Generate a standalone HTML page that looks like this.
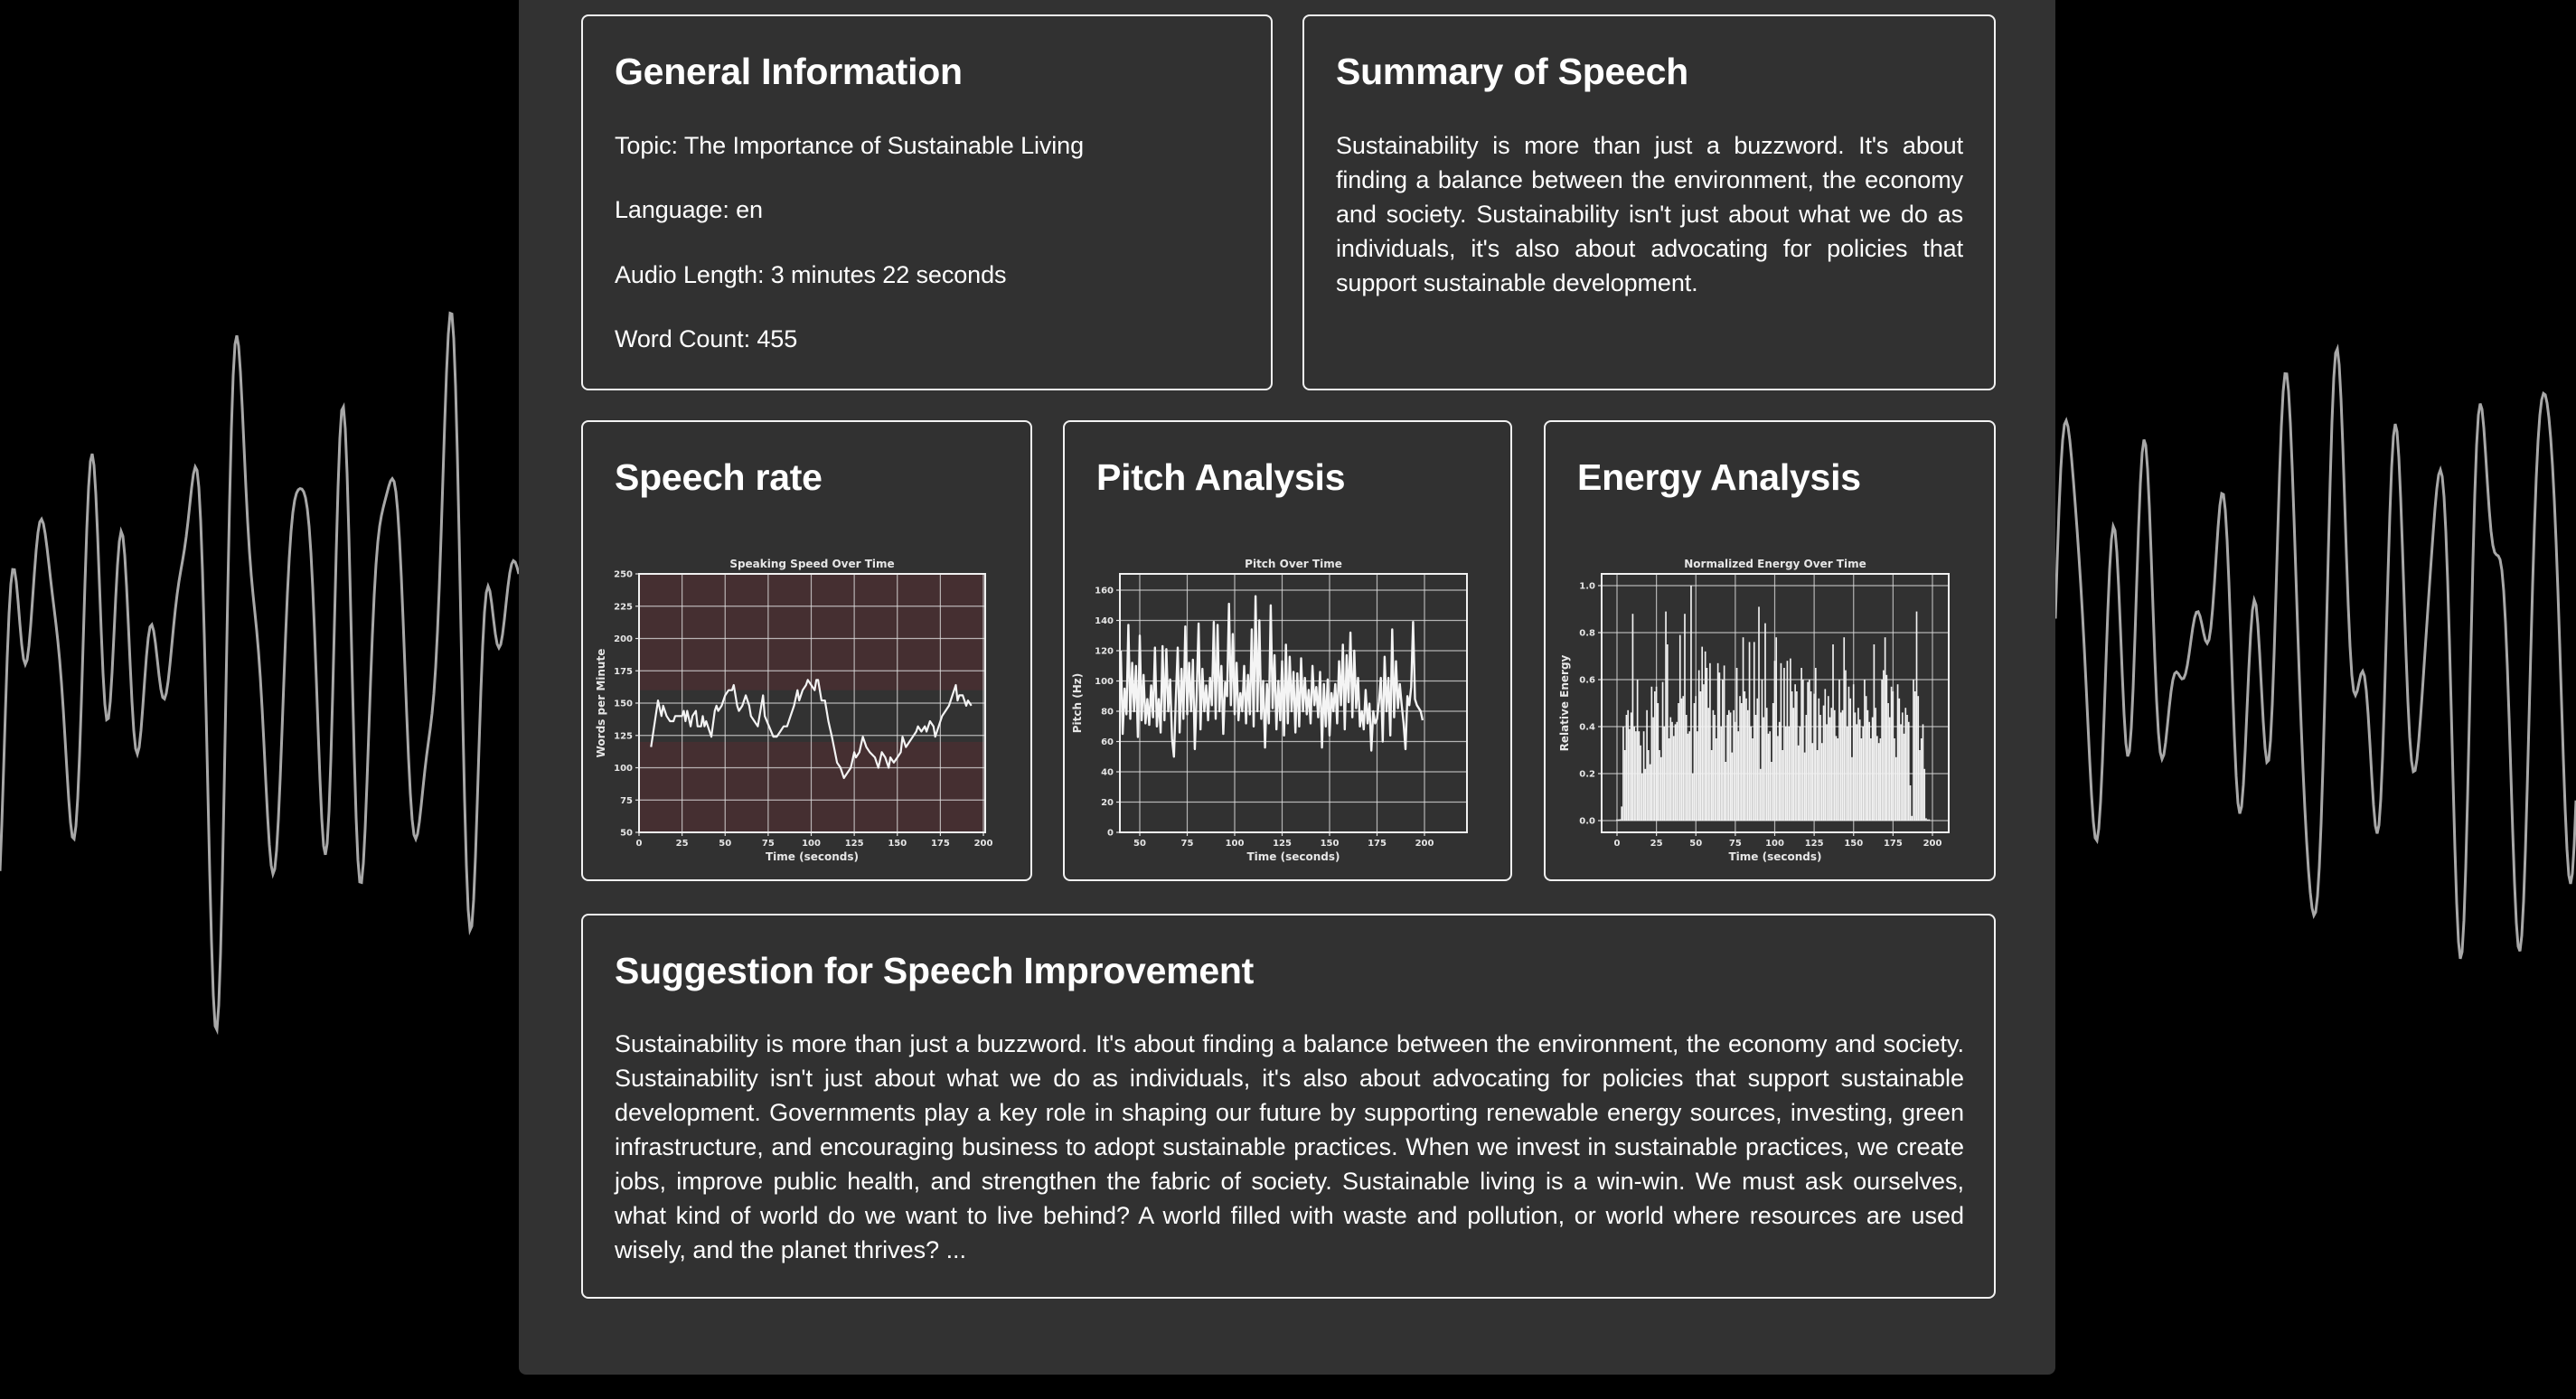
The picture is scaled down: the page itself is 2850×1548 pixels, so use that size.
<!DOCTYPE html>
<html><head><meta charset="utf-8"><title>Speech Analysis</title>
<style>
html,body{margin:0;padding:0;background:#000;width:2850px;height:1548px;overflow:hidden;font-family:"Liberation Sans",Arial,sans-serif;color:#fff}
#bgwave{position:absolute;left:0;top:0}
#container{position:absolute;left:574px;top:-10px;width:1700px;height:1531px;background:#323232;border-radius:8px}
.card{position:absolute;border:2px solid #f2f2f2;border-radius:8px;box-sizing:border-box;background:rgba(48,48,48,0.6)}
.card h2{position:absolute;left:35px;top:37px;margin:0;font-size:41px;line-height:48px;font-weight:bold;white-space:nowrap;letter-spacing:-0.25px}
.card p{position:absolute;left:35px;margin:0;font-size:27px;line-height:38px;white-space:nowrap;letter-spacing:-0.1px}
.just{white-space:normal!important;text-align:justify}
#charts{position:absolute;left:0;top:0;pointer-events:none}
</style></head>
<body>
<svg id="bgwave" width="2850" height="1548"></svg>
<div id="container"></div>

<div class="card" style="left:643px;top:16px;width:765px;height:416px">
 <h2>General Information</h2>
 <p style="top:124px">Topic: The Importance of Sustainable Living</p>
 <p style="top:195px">Language: en</p>
 <p style="top:267px">Audio Length: 3 minutes 22 seconds</p>
 <p style="top:338px">Word Count: 455</p>
</div>

<div class="card" style="left:1441px;top:16px;width:767px;height:416px">
 <h2>Summary of Speech</h2>
 <p class="just" style="top:124px;width:694px">Sustainability is more than just a buzzword. It's about finding a balance between the environment, the economy and society. Sustainability isn't just about what we do as individuals, it's also about advocating for policies that support sustainable development.</p>
</div>

<div class="card" style="left:643px;top:465px;width:499px;height:510px">
 <h2>Speech rate</h2>
</div>
<div class="card" style="left:1176px;top:465px;width:497px;height:510px">
 <h2>Pitch Analysis</h2>
</div>
<div class="card" style="left:1708px;top:465px;width:500px;height:510px">
 <h2>Energy Analysis</h2>
</div>

<div class="card" style="left:643px;top:1011px;width:1565px;height:426px">
 <h2>Suggestion for Speech Improvement</h2>
 <p class="just" style="top:123px;width:1493px;letter-spacing:-0.02px">Sustainability is more than just a buzzword. It's about finding a balance between the environment, the economy and society. Sustainability isn't just about what we do as individuals, it's also about advocating for policies that support sustainable development. Governments play a key role in shaping our future by supporting renewable energy sources, investing, green infrastructure, and encouraging business to adopt sustainable practices. When we invest in sustainable practices, we create jobs, improve public health, and strengthen the fabric of society. Sustainable living is a win-win. We must ask ourselves, what&nbsp;kind of world do we want to live behind? A world filled with waste and pollution, or world where resources are used wisely, and the planet thrives? ...</p>
</div>

<svg id="charts" width="2850" height="1548"></svg>

<script>
// ---------- Speech rate data ----------
const rateTimes = [7,11,13,14,16,18,20,21,25,26,27,28,30,31,33,34,36,37,38,39,42,44,45,46,48,50,52,54,55,57,58,60,62,64,65,67,69,72,73,78,80,82,84,86,88,90,92,93,95,97,98,100,102,103,104,106,108,110,112,115,117,119,121,123,125,126,128,130,132,134,137,139,141,143,145,146,148,150,152,153,155,157,159,161,162,164,166,167,169,171,172,174,176,178,180,182,184,185,186,188,190,191,193];
const rateValues = [116,152,140,148,140,136,136,140,140,144,136,144,132,140,144,132,132,140,132,136,124,144,148,144,148,156,160,160,164,148,144,148,156,148,140,136,132,156,140,124,124,128,132,132,140,148,160,152,160,164,168,164,160,168,168,152,152,136,124,104,100,92,96,100,112,108,112,124,116,112,108,100,112,108,100,108,104,108,112,124,116,120,124,128,132,128,132,128,136,132,124,132,140,144,148,156,164,152,156,156,148,152,148];
const rateYTicks = [50,75,100,125,150,175,200,225,250];
const rateXTicks = [0,25,50,75,100,125,150,175,200];
const rateBandLow = 120, rateBandHigh = 160;

// ---------- Pitch data (t = 40..199) ----------
const pitchStart = 40;
const pitchValues = [120,65,95,78,137,75,112,80,110,63,130,74,104,72,88,71,97,76,122,70,88,66,123,74,121,80,101,62,50,88,122,66,108,75,136,78,112,80,114,55,92,138,68,108,80,97,74,102,84,139,75,137,80,110,65,99,90,151,84,131,78,112,74,92,80,110,72,104,78,134,70,156,80,140,75,100,56,98,72,150,82,117,68,100,74,113,64,124,72,116,80,106,66,105,70,115,80,102,78,94,72,110,84,96,76,106,56,98,70,101,64,92,80,98,72,113,84,124,68,117,86,132,76,120,82,102,70,80,68,94,72,85,54,80,72,75,86,102,60,116,80,102,64,134,76,113,82,98,84,72,55,90,84,96,139,88,84,82,80,74];
const pitchYTicks = [0,20,40,60,80,100,120,140,160];
const pitchXTicks = [50,75,100,125,150,175,200];

// ---------- Energy data (t = 0..~200, 1 s step) ----------
const energyValues = [0.005,0.005,0.006,0.06,0.40,0.30,0.45,0.47,0.39,0.46,0.88,0.40,0.38,0.60,0.38,0.32,0.20,0.38,0.22,0.47,0.30,0.24,0.57,0.44,0.55,0.57,0.50,0.30,0.27,0.59,0.40,0.89,0.75,0.35,0.44,0.42,0.36,0.41,0.42,0.50,0.79,0.52,0.53,0.88,0.45,0.37,0.38,1.00,0.20,0.50,0.53,0.38,0.64,0.55,0.74,0.58,0.72,0.65,0.48,0.67,0.30,0.47,0.45,0.35,0.67,0.63,0.40,0.60,0.66,0.25,0.45,0.47,0.46,0.29,0.47,0.42,0.65,0.38,0.53,0.50,0.78,0.55,0.52,0.47,0.76,0.40,0.35,0.76,0.45,0.52,0.91,0.22,0.60,0.44,0.84,0.48,0.37,0.38,0.25,0.50,0.68,0.78,0.36,0.42,0.67,0.30,0.65,0.40,0.68,0.40,0.69,0.55,0.48,0.58,0.55,0.32,0.40,0.65,0.60,0.29,0.45,0.59,0.60,0.55,0.33,0.54,0.65,0.30,0.52,0.45,0.33,0.49,0.56,0.41,0.53,0.44,0.48,0.75,0.47,0.36,0.35,0.60,0.46,0.47,0.78,0.64,0.40,0.57,0.52,0.27,0.58,0.46,0.41,0.48,0.43,0.35,0.40,0.60,0.53,0.47,0.42,0.35,0.44,0.75,0.48,0.36,0.33,0.35,0.60,0.64,0.78,0.62,0.50,0.44,0.57,0.55,0.35,0.27,0.58,0.52,0.41,0.46,0.37,0.48,0.45,0.42,0.15,0.02,0.60,0.55,0.89,0.53,0.30,0.35,0.41,0.22,0.01,0.005,0.005];
const energyYTicks = [0.0,0.2,0.4,0.6,0.8,1.0];
const energyXTicks = [0,25,50,75,100,125,150,175,200];

const NS = 'http://www.w3.org/2000/svg';
const svg = document.getElementById('charts');
function mk(tag, attrs, parent){const e=document.createElementNS(NS,tag);for(const k in attrs)e.setAttribute(k,attrs[k]);(parent||svg).appendChild(e);return e;}
function lin(d0,d1,r0,r1){return v=>r0+(v-d0)/(d1-d0)*(r1-r0);}
const tickFont = 'font-family:"DejaVu Sans",sans-serif;font-weight:bold;font-size:10px;fill:#e6e6e6';
const labFont = 'font-family:"DejaVu Sans",sans-serif;font-weight:bold;font-size:12px;fill:#e6e6e6';

function axesFrame(g, x0,x1,y0,y1, sx, sy, xt, yt, fmtY, title, xlabel, ylabel, ylabX){
  for(const t of xt){
    const l=mk('line',{x1:sx(t),x2:sx(t),y1:y0,y2:y1,stroke:'#e0e0e0','stroke-width':1.2,'stroke-opacity':0.75},g);
    
    
    const tx=mk('text',{x:sx(t),y:y1+15,'text-anchor':'middle',style:tickFont},g);
    tx.textContent=t;
    
    
    mk('line',{x1:sx(t),x2:sx(t),y1:y1,y2:y1+4,stroke:'#e0e0e0','stroke-width':1.2},g);
  }
  for(const t of yt){
    const l=mk('line',{x1:x0,x2:x1,y1:sy(t),y2:sy(t),stroke:'#e0e0e0','stroke-width':1.2,'stroke-opacity':0.75},g);
    
    
    const tx=mk('text',{x:x0-7,y:sy(t)+3.5,'text-anchor':'end',style:tickFont},g);
    tx.textContent=fmtY(t);
    
    
    mk('line',{x1:x0-4,x2:x0,y1:sy(t),y2:sy(t),stroke:'#e0e0e0','stroke-width':1.2},g);
  }
  const fr=mk('rect',{x:x0,y:y0,width:x1-x0,height:y1-y0,fill:'none',stroke:'#f0f0f0','stroke-width':2},g);
  
  
  const tt=mk('text',{x:(x0+x1)/2,y:y0-7,'text-anchor':'middle',style:labFont},g);
  tt.textContent=title;
  
  
  const xl=mk('text',{x:(x0+x1)/2,y:y1+31,'text-anchor':'middle',style:labFont},g);
  xl.textContent=xlabel;
  
  
  const yl=mk('text',{x:ylabX,y:(y0+y1)/2,'text-anchor':'middle',style:labFont,transform:`rotate(-90 ${ylabX} ${(y0+y1)/2})`},g);
  yl.textContent=ylabel;
  
  
}

// ---- Chart 1: speech rate ----
(function(){
  const x0=707,x1=1090,y0=635,y1=921;
  const sx=lin(0,200,707,1088), sy=lin(50,250,921,635);
  const g=mk('g',{});
  
  
  const bg=mk('rect',{x:x0,y:y0,width:x1-x0,height:y1-y0,fill:'#452f31'},g);
  
  
  const band=mk('rect',{x:x0,y:sy(rateBandHigh),width:x1-x0,height:sy(rateBandLow)-sy(rateBandHigh),fill:'#323232'},g);
  
  
  axesFrame(g,x0,x1,y0,y1,sx,sy,rateXTicks,rateYTicks,v=>v,'Speaking Speed Over Time','Time (seconds)','Words per Minute',669);
  const pts=rateTimes.map((t,i)=>sx(t).toFixed(1)+','+sy(rateValues[i]).toFixed(1)).join(' ');
  const pl=mk('polyline',{points:pts,fill:'none',stroke:'#f4f4f4','stroke-width':2.2,'stroke-linejoin':'round'},g);
  
  
})();

// ---- Chart 2: pitch ----
(function(){
  const x0=1239,x1=1623,y0=635,y1=921;
  const sx=lin(50,200,1261,1576), sy=lin(0,160,921,653);
  const g=mk('g',{});
  
  
  axesFrame(g,x0,x1,y0,y1,sx,sy,pitchXTicks,pitchYTicks,v=>v,'Pitch Over Time','Time (seconds)','Pitch (Hz)',1196);
  const pts=pitchValues.map((v,i)=>sx(pitchStart+i).toFixed(1)+','+sy(v).toFixed(1)).join(' ');
  const pl=mk('polyline',{points:pts,fill:'none',stroke:'#f4f4f4','stroke-width':2.4,'stroke-linejoin':'round'},g);
  
  
})();

// ---- Chart 3: energy ----
(function(){
  const x0=1772,x1=2156,y0=635,y1=921;
  const sx=lin(0,200,1789,2138), sy=lin(0,1,908,648);
  const g=mk('g',{});
  
  
  axesFrame(g,x0,x1,y0,y1,sx,sy,energyXTicks,energyYTicks,v=>v.toFixed(1),'Normalized Energy Over Time','Time (seconds)','Relative Energy',1735);
  energyValues.forEach((v,i)=>{
    const w=sx(1)-sx(0);
    const b=mk('rect',{x:(sx(i)-w*0.5).toFixed(2),y:sy(v).toFixed(2),width:(w*0.95).toFixed(2),height:(sy(0)-sy(v)).toFixed(2),fill:'#f2f2f2'},g);
    
    
  });
})();

// ---- decorative background waves ----
(function(){
  const bg=document.getElementById('bgwave');
  function wave(xa,xb,seed,op,w){
    let d='';
    for(let x=xa;x<=xb;x+=2){
      const t=(x+seed);
      const y=709+230*Math.sin(t/10.5)*Math.cos(t/83)+190*Math.sin(t/7.3+1.3)*Math.sin(t/53+seed)+70*Math.sin(t/4.9);
      d+=(x===xa?'M':'L')+x+','+y.toFixed(1);
    }
    const p=document.createElementNS(NS,'path');
    p.setAttribute('d',d);p.setAttribute('fill','none');p.setAttribute('stroke','#a8a8a8');
    p.setAttribute('stroke-width',w);p.setAttribute('stroke-opacity',op);
    
    
    bg.appendChild(p);
  }
  wave(0,574,13,1,3);
  wave(2274,2850,331,1,3);
})();
</script>
</body></html>
